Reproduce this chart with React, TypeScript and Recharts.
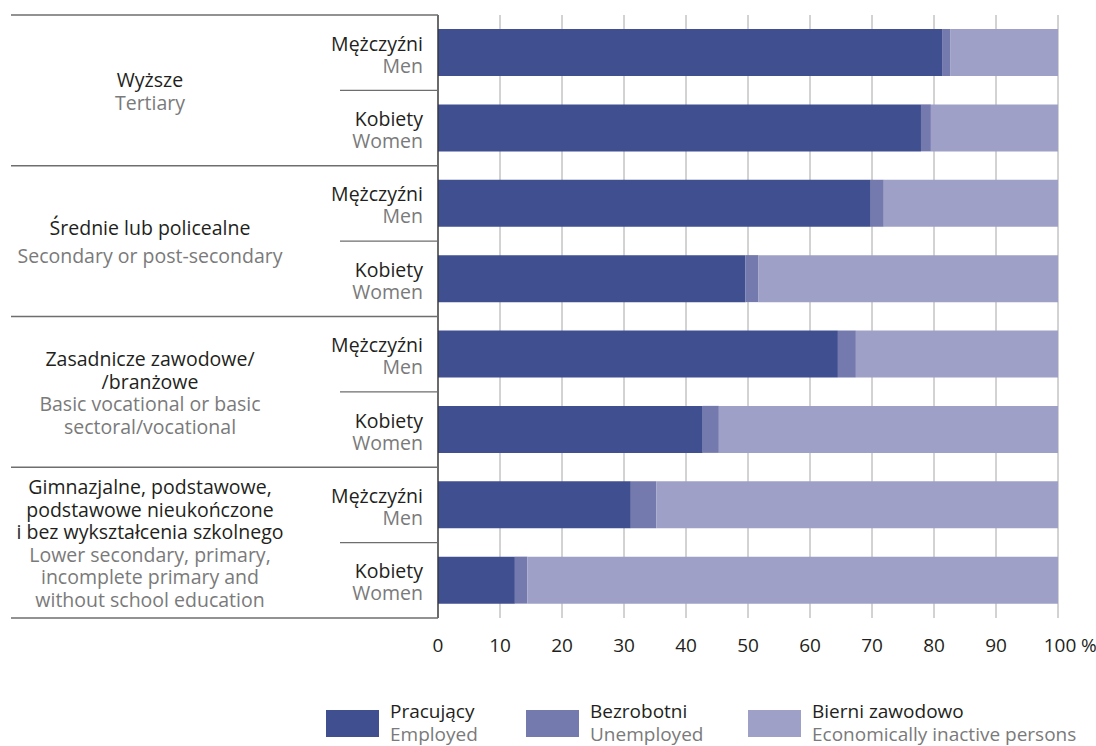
import React from 'react';
import { BarChart, Bar, XAxis, YAxis, CartesianGrid } from 'recharts';

const groupPl: string[][] = [
  ['Wyższe'],
  ['Średnie lub policealne'],
  ['Zasadnicze zawodowe/', '/branżowe'],
  ['Gimnazjalne, podstawowe,', 'podstawowe nieukończone', 'i bez  wykształcenia szkolnego'],
];
const groupEn: string[][] = [
  ['Tertiary'],
  ['Secondary or post-secondary'],
  ['Basic vocational or basic', 'sectoral/vocational'],
  ['Lower secondary, primary,', 'incomplete primary and', 'without school education'],
];
const sexPl = ['Mężczyźni', 'Kobiety'];
const sexEn = ['Men', 'Women'];

const employed = [81.3, 77.9, 69.8, 49.6, 64.5, 42.7, 31.1, 12.4];
const unemployed = [1.3, 1.6, 2.1, 2.1, 2.9, 2.6, 4.1, 2.0];
const inactive = [17.4, 20.5, 28.1, 48.3, 32.6, 54.7, 64.8, 85.6];

const xTicks = [0, 10, 20, 30, 40, 50, 60, 70, 80, 90, 100];

const seriesPl = ['Pracujący', 'Bezrobotni', 'Bierni zawodowo'];
const seriesEn = ['Employed', 'Unemployed', 'Economically inactive persons'];
const seriesKeys = ['employed', 'unemployed', 'inactive'];
const colors = ['#404F90', '#7479AE', '#9EA0C8'];

const data = employed.map((e, i) => ({
  row: `r${i}`,
  employed: e,
  unemployed: unemployed[i],
  inactive: inactive[i],
}));

const FONT = '"Open Sans", sans-serif';
const FS = 19.5;
const W = 1096;
const H = 746;
const TOP = 15;
const BOTTOM_Y = 618;
const LEFT_X = 438;
const RIGHT_X = 1058;
const BAND = (BOTTOM_Y - TOP) / employed.length;
const DARK = '#231f20';
const GRAY = '#7a7a7a';
const LINE = '#6e6e6e';
// extra spacing between the Polish and English blocks of each group label
const groupGap = [0, 6, 0, 0];

const RowTick = (props: any) => {
  const { y, index } = props;
  const i = index as number;
  const s = i % 2;
  const els: React.ReactNode[] = [];
  els.push(
    <text key="pl" x={423} y={y - 2} textAnchor="end" fontSize={FS} fill={DARK} fontFamily={FONT}>
      {sexPl[s]}
    </text>
  );
  els.push(
    <text key="en" x={423} y={y + 20} textAnchor="end" fontSize={FS} fill={GRAY} fontFamily={FONT}>
      {sexEn[s]}
    </text>
  );
  if (s === 0) {
    els.push(<line key="sub" x1={340} x2={LEFT_X} y1={y + BAND / 2} y2={y + BAND / 2} stroke={LINE} strokeWidth={1.3} />);
    const g = i / 2;
    const center = y + BAND / 2;
    const lh = 22.5;
    const nPl = groupPl[g].length;
    const nEn = groupEn[g].length;
    const total = (nPl + nEn - 1) * lh + groupGap[g];
    const first = center - total / 2 + 8;
    groupPl[g].forEach((t, k) => {
      els.push(
        <text key={`p${k}`} x={150} y={first + k * lh} textAnchor="middle" fontSize={FS} fill={DARK} fontFamily={FONT}>
          {t}
        </text>
      );
    });
    groupEn[g].forEach((t, k) => {
      els.push(
        <text key={`e${k}`} x={150} y={first + (nPl + k) * lh + groupGap[g]} textAnchor="middle" fontSize={FS} fill={GRAY} fontFamily={FONT}>
          {t}
        </text>
      );
    });
    els.push(<line key="gb" x1={11} x2={LEFT_X} y1={y + BAND * 1.5} y2={y + BAND * 1.5} stroke={LINE} strokeWidth={1.3} />);
    if (g === 0) {
      els.push(<line key="gt" x1={11} x2={LEFT_X} y1={y - BAND / 2} y2={y - BAND / 2} stroke={LINE} strokeWidth={1.3} />);
    }
  }
  return <g>{els}</g>;
};

const XTick = (props: any) => {
  const { x, payload } = props;
  const v = payload.value as number;
  const by = 651.5;
  return (
    <g>
      <text x={x + (v === 100 ? 2 : 0)} y={by} textAnchor="middle" fontSize={19} fill={DARK} fontFamily={FONT}>
        {v}
      </text>
      {v === 100 && (
        <text x={x + 23} y={by} textAnchor="start" fontSize={19} fill={DARK} fontFamily={FONT}>
          %
        </text>
      )}
    </g>
  );
};

const legendX = [326, 526, 748];

export default function App() {
  return (
    <div style={{ position: 'absolute', left: 0, top: 0, width: W, height: H, background: '#fff' }}>
      <BarChart
        width={W}
        height={H}
        data={data}
        layout="vertical"
        margin={{ top: TOP, right: W - RIGHT_X, left: 0, bottom: H - BOTTOM_Y - 40 }}
        barSize={47}
        barCategoryGap={0}
      >
        <CartesianGrid horizontal={false} stroke="#a6a6a6" strokeWidth={1} />
        <XAxis
          type="number"
          domain={[0, 100]}
          ticks={xTicks}
          axisLine={false}
          tickLine={false}
          height={40}
          tick={<XTick />}
          interval={0}
        />
        <YAxis
          type="category"
          dataKey="row"
          width={LEFT_X}
          axisLine={{ stroke: '#333', strokeWidth: 1.3 }}
          tickLine={false}
          tick={<RowTick />}
          interval={0}
        />
        {seriesKeys.map((k, i) => (
          <Bar key={k} dataKey={k} stackId="a" fill={colors[i]} isAnimationActive={false} />
        ))}
      </BarChart>
      <svg width={W} height={56} style={{ position: 'absolute', left: 0, top: 690 }}>
        {seriesKeys.map((k, i) => (
          <g key={k}>
            <rect x={legendX[i]} y={20} width={53} height={27} fill={colors[i]} />
            <text x={legendX[i] + 64} y={28} fontSize={19} fill={DARK} fontFamily={FONT}>
              {seriesPl[i]}
            </text>
            <text x={legendX[i] + 64} y={50.5} fontSize={19} fill={GRAY} fontFamily={FONT}>
              {seriesEn[i]}
            </text>
          </g>
        ))}
      </svg>
    </div>
  );
}
